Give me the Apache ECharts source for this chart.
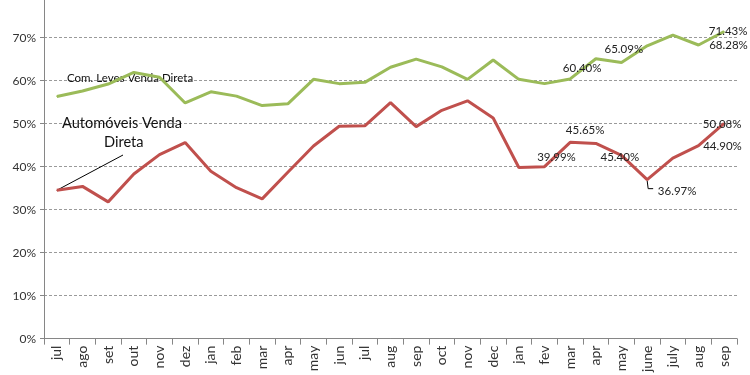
<!DOCTYPE html>
<html><head><meta charset="utf-8">
<script src="https://cdn.jsdelivr.net/npm/echarts@6/dist/echarts.min.js"></script>
<style>html,body{margin:0;padding:0;background:#fff}#c{width:750px;height:375px}</style>
</head><body><div id="c"></div>
<script>
const categories = ['jul','ago','set','out','nov','dez','jan','feb','mar','apr','may','jun','jul','aug','sep','oct','nov','dec','jan','fev','mar','apr','may','june','july','aug','sep'];
const comLevesVendaDireta = [56.3, 57.6, 59.2, 61.9, 60.8, 54.8, 57.4, 56.4, 54.2, 54.6, 60.3, 59.3, 59.6, 63.1, 65.0, 63.2, 60.3, 64.8, 60.3, 59.3, 60.40, 65.09, 64.2, 68.1, 70.6, 68.28, 71.43];
const automoveisVendaDireta = [34.5, 35.4, 31.8, 38.3, 42.8, 45.6, 38.9, 35.1, 32.5, 38.7, 44.8, 49.4, 49.5, 54.9, 49.3, 53.1, 55.3, 51.3, 39.8, 39.99, 45.65, 45.40, 42.6, 36.97, 42.0, 44.90, 50.08];
const yTicks = [0, 10, 20, 30, 40, 50, 60, 70];
const greenLabelled = [20, 21, 25, 26];
const redLabelled = [19, 20, 21, 23, 25, 26];

const greenOffsets = {20: [12, -11], 21: [28, -9], 25: [30, 0], 26: [4, 0]};
const redOffsets = {19: [12, -9], 20: [15, -12], 21: [24, 14], 23: [30, 12], 25: [24, 1], 26: [-2, 1]};

const FONT = 'Lato, "Liberation Sans", sans-serif';

function build(values, labelled, offsets) {
  return values.map((v, i) => {
    if (labelled.indexOf(i) >= 0) {
      return {value: v, label: {show: true, position: 'inside', offset: offsets[i],
        formatter: p => p.value.toFixed(2) + '%', color: '#222', fontSize: 11.5, fontFamily: FONT}};
    }
    return v;
  });
}

const chart = echarts.init(document.getElementById('c'), null, {renderer: 'canvas'});
chart.setOption({
  animation: false,
  grid: {left: 44, right: 13, top: 0, bottom: 34, containLabel: false},
  xAxis: {
    type: 'category', data: categories, boundaryGap: true,
    axisLine: {lineStyle: {color: '#868686', width: 1}},
    axisTick: {show: true, length: 6, lineStyle: {color: '#868686'}},
    axisLabel: {rotate: 90, fontSize: 14, color: '#333', margin: 7, fontFamily: FONT, interval: 0}
  },
  yAxis: {
    type: 'value', min: 0, max: 78.75, interval: 10,
    axisLine: {show: true, lineStyle: {color: '#868686', width: 1}},
    axisTick: {show: true, length: 4, lineStyle: {color: '#868686'}},
    axisLabel: {color: '#333', fontSize: 12, fontFamily: FONT, margin: 8, showMaxLabel: false,
      formatter: v => yTicks.indexOf(v) >= 0 ? v + '%' : ''},
    splitLine: {show: true, showMaxLine: false, lineStyle: {color: '#9a9a9a', type: [3, 2], width: 1}}
  },
  series: [
    {type: 'line', name: 'Com. Leves Venda Direta', data: build(comLevesVendaDireta, greenLabelled, greenOffsets),
      symbol: 'circle', symbolSize: 1, itemStyle: {color: '#9BBB59'},
      lineStyle: {color: '#9BBB59', width: 3}, z: 3},
    {type: 'line', name: 'Automóveis Venda Direta', data: build(automoveisVendaDireta, redLabelled, redOffsets),
      symbol: 'circle', symbolSize: 1, itemStyle: {color: '#C0504D'},
      lineStyle: {color: '#C0504D', width: 3}, z: 3}
  ]
});

const p0 = chart.convertToPixel({seriesIndex: 1}, [0, automoveisVendaDireta[0]]);
const p23 = chart.convertToPixel({seriesIndex: 1}, [23, automoveisVendaDireta[23]]);
chart.setOption({
  graphic: [
    {type: 'text', left: 67, top: 72, style: {text: 'Com. Leves Venda Direta', fill: '#111', font: '11.5px ' + FONT}},
    {type: 'text', left: 62, top: 116, style: {text: 'Automóveis Venda', fill: '#111', font: '14.6px ' + FONT}},
    {type: 'text', left: 104, top: 135, style: {text: 'Direta', fill: '#111', font: '14.6px ' + FONT}},
    {type: 'line', shape: {x1: p0[0], y1: p0[1], x2: 123, y2: 155}, style: {stroke: '#000', lineWidth: 1}},
    {type: 'polyline', shape: {points: [[p23[0], p23[1] + 1], [p23[0] + 1, p23[1] + 9], [p23[0] + 6, p23[1] + 9]]},
      style: {stroke: '#000', lineWidth: 1, fill: null}}
  ]
});
</script></body></html>
